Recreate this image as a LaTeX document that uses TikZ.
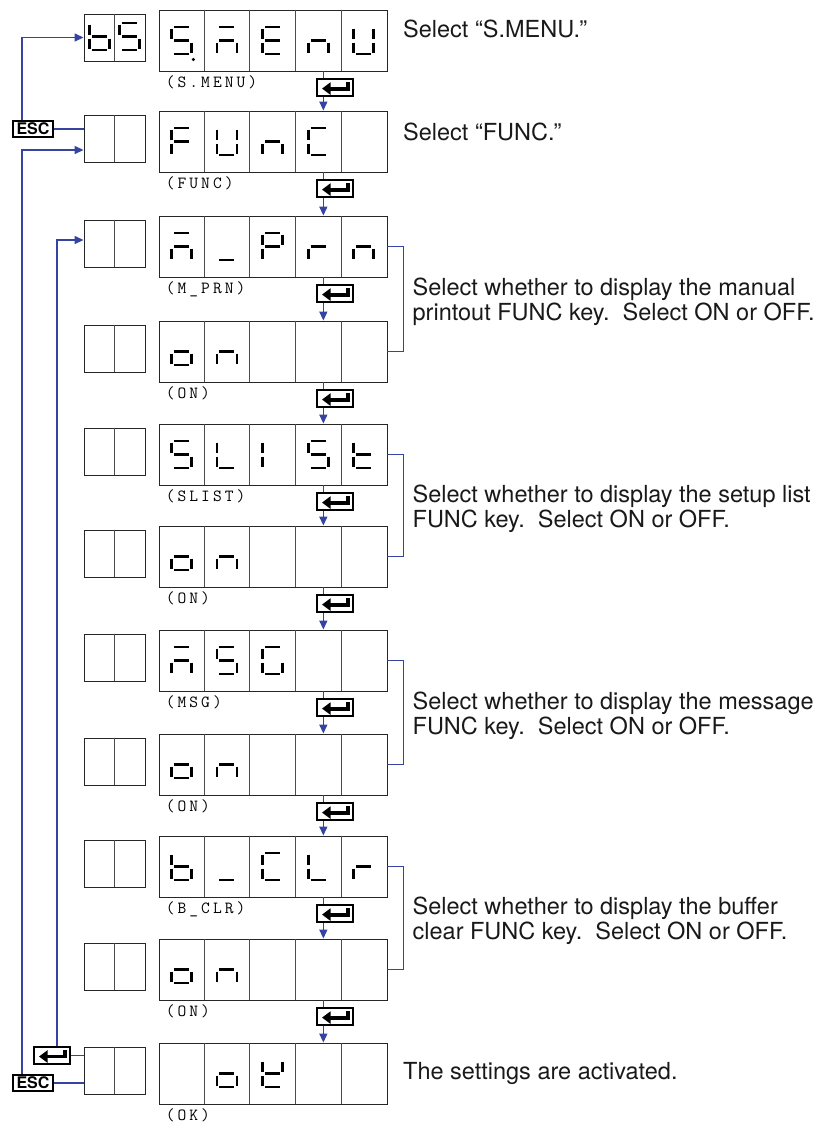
\documentclass[tikz,border=0pt]{standalone}
\usepackage{fontspec}
\setmainfont{TeX Gyre Heros}
\newfontfamily\lblfont[LetterSpace=18]{Latin Modern Mono}
\usetikzlibrary{positioning,arrows.meta,calc}

\definecolor{flowblue}{RGB}{52,68,160}

% segment lists of the display characters
\def\sgb{f,e,g,c,d}
\def\sgS{a,f,g,c,d}
\def\sgM{a,g,e,c}
\def\sgE{a,f,g,e,d}
\def\sgn{g,e,c}
\def\sgU{f,e,d,c,b}
\def\sgF{a,f,g,e}
\def\sgC{a,f,e,d}
\def\sgus{d}
\def\sgP{a,b,f,g,e}
\def\sgr{g,e}
\def\sgo{g,c,d,e}
\def\sgL{f,e,d}
\def\sgI{f,e}
\def\sgt{f,g,e,d}
\def\sgG{a,f,e,d,c}
\def\sgK{f,e,b,g,d}

\tikzset{
  mainbox/.style={draw=black!85,line width=0.9pt,minimum width=228pt,minimum height=61pt,inner sep=0pt},
  smallbox/.style={draw=black!85,line width=0.9pt,minimum width=61pt,minimum height=47pt,inner sep=0pt},
  celldiv/.style={draw=black!70,line width=0.9pt},
  segline/.style={line width=2.7pt},
  lbl/.style={font=\lblfont\fontsize{17}{18}\selectfont,inner sep=0pt,anchor=north west},
  desc/.style={font=\fontsize{23.5}{25}\selectfont,text=black!90,inner sep=0pt,align=left},
  flow/.style={flowblue,line width=1.4pt},
  flowarrow/.style={flow,-{Triangle[length=9pt,width=8pt]}},
  bracket/.style={flowblue,line width=1.1pt},
  enterkey/.style={draw,line width=1.3pt,fill=white,minimum width=36pt,minimum height=17pt,inner sep=0pt},
  retarrow/.style={line width=3.8pt,-{Triangle[length=8.5pt,width=12pt]}},
  esckey/.style={draw,line width=1.3pt,fill=white,minimum width=40pt,minimum height=16pt,inner sep=0pt,
    font=\bfseries\fontsize{16}{16}\selectfont}
}

% one seven-segment character at a point
\newcommand{\segchar}[3][]{%
  \edef\seglist{#3}%
  \begin{scope}[shift={(#2)},#1]
    \coordinate (sg-a-1) at (-7.5,13.5); \coordinate (sg-a-2) at (7.5,13.5);
    \coordinate (sg-b-1) at (10,12);     \coordinate (sg-b-2) at (10,2);
    \coordinate (sg-c-1) at (10,-2);     \coordinate (sg-c-2) at (10,-12);
    \coordinate (sg-d-1) at (-7.5,-13.5); \coordinate (sg-d-2) at (7.5,-13.5);
    \coordinate (sg-e-1) at (-10,-2);    \coordinate (sg-e-2) at (-10,-12);
    \coordinate (sg-f-1) at (-10,12);    \coordinate (sg-f-2) at (-10,2);
    \coordinate (sg-g-1) at (-7.5,0);    \coordinate (sg-g-2) at (7.5,0);
    \foreach \s in \seglist {\draw[segline] (sg-\s-1) -- (sg-\s-2);}
  \end{scope}}

\begin{document}
\begin{tikzpicture}[x=1pt,y=1pt]
\useasboundingbox (0,0) rectangle (828,-1122);

% displays
\foreach \r/\top in {1/10,2/111,3/216,4/321,5/424,6/526,7/630,8/734,9/836,10/939,11/1043}{
  \node[mainbox] (m\r) at (273,-\top-30.5) {};
  \node[smallbox] (s\r) at (114.5,-\top-27.5) {};
  \draw[celldiv] (s\r.north) -- (s\r.south);
  \foreach \k in {1,...,4}
    \draw[celldiv] ($(m\r.north west)+(45.6*\k,0)$) -- ($(m\r.south west)+(45.6*\k,0)$);
}

% characters
\foreach \r/\k/\ch in {1/1/\sgS,1/2/\sgM,1/3/\sgE,1/4/\sgn,1/5/\sgU,
  2/1/\sgF,2/2/\sgU,2/3/\sgn,2/4/\sgC,
  3/1/\sgM,3/2/\sgus,3/3/\sgP,3/4/\sgr,3/5/\sgn,
  4/1/\sgo,4/2/\sgn,
  5/1/\sgS,5/2/\sgL,5/3/\sgI,5/4/\sgS,5/5/\sgt,
  6/1/\sgo,6/2/\sgn,
  7/1/\sgM,7/2/\sgS,7/3/\sgG,
  8/1/\sgo,8/2/\sgn,
  9/1/\sgb,9/2/\sgus,9/3/\sgC,9/4/\sgL,9/5/\sgr,
  10/1/\sgo,10/2/\sgn,
  11/2/\sgo,11/3/\sgK}
  {\segchar{$(m\r.west)+({45.6*(\k-0.5)},0)$}{\ch}}
\fill ($(m1.west)+(22.8+12,-19)$) circle (1.7);
\segchar{$(s1.center)+(-15.25,1)$}{\sgb}
\segchar{$(s1.center)+(15.25,1)$}{\sgS}

% labels under the displays
\foreach \r/\txt in {1/(S.MENU),2/(FUNC),3/(M\_PRN),4/(ON),5/(SLIST),6/(ON),
  7/(MSG),8/(ON),9/(B\_CLR),10/(ON),11/(OK)}
  \node[lbl] (l\r) at ($(m\r.south west)+(7,-4)$) {\txt};

% enter keys between the displays
\foreach \r [evaluate=\r as \n using int(\r+1)] in {1,...,10}{
  \node[enterkey,anchor=north] (e\r) at ($(m\r.south)+(62,-7)$) {};
  \draw[retarrow] ([shift={(13,5.5)}]e\r.center) -- ++(0,-6.5) -- ++(-26,0);
  \coordinate (ein\r) at ($(e\r.north west)+(7,0)$);
  \coordinate (eout\r) at ($(e\r.south west)+(7,0)$);
  \draw[flow] (ein\r |- m\r.south) -- (ein\r);
  \draw[flowarrow] (eout\r) -- (eout\r |- m\n.north);
}

% keys on the left
\node[esckey] (esctop) at (33,-129) {ESC};
\node[esckey] (escbot) at (33,-1083) {ESC};
\node[enterkey] (ebot) at (52,-1055.5) {};
\draw[retarrow] ([shift={(13,5.5)}]ebot.center) -- ++(0,-6.5) -- ++(-26,0);

\draw[flow] (esctop.east) -- (esctop.east -| s2.west);
\draw[flowarrow] ([xshift=-11pt]esctop.north) |- (s1.west);
\draw[flowarrow] ([xshift=-11pt]escbot.north) |- ([yshift=-11.5pt]s2.west);
\draw[flowarrow] ([xshift=5pt]ebot.north) |- ([yshift=3.5pt]s3.west);
\draw[flow] (ebot.east) -- (ebot.east -| s11.west);
\draw[flow] (escbot.east) -- (escbot.east -| s11.west);

% brackets and descriptions
\foreach \a/\b in {3/4,5/6,7/8,9/10}
  \draw[bracket] (m\a.east) -- ++(16,0) |- (m\b.east);

\node[desc,anchor=base west] (d1) at (403,-37) {Select “S.MENU.”};
\node[desc,anchor=base west] (d2) at (403,-140) {Select “FUNC.”};
\node[desc,anchor=west] (d34) at ($(m3.east)!0.5!(m4.east)+(25,-3)$)
  {Select whether to display the manual\\printout FUNC key.\ \ Select ON or OFF.};
\node[desc,anchor=west] (d56) at ($(m5.east)!0.5!(m6.east)+(25,-3)$)
  {Select whether to display the setup list\\FUNC key.\ \ Select ON or OFF.};
\node[desc,anchor=west] (d78) at ($(m7.east)!0.5!(m8.east)+(25,-3)$)
  {Select whether to display the message\\FUNC key.\ \ Select ON or OFF.};
\node[desc,anchor=west] (d910) at ($(m9.east)!0.5!(m10.east)+(25,-3)$)
  {Select whether to display the buffer\\clear FUNC key.\ \ Select ON or OFF.};
\node[desc,anchor=base west] (d11) at (403,-1079) {The settings are activated.};
\end{tikzpicture}
\end{document}
